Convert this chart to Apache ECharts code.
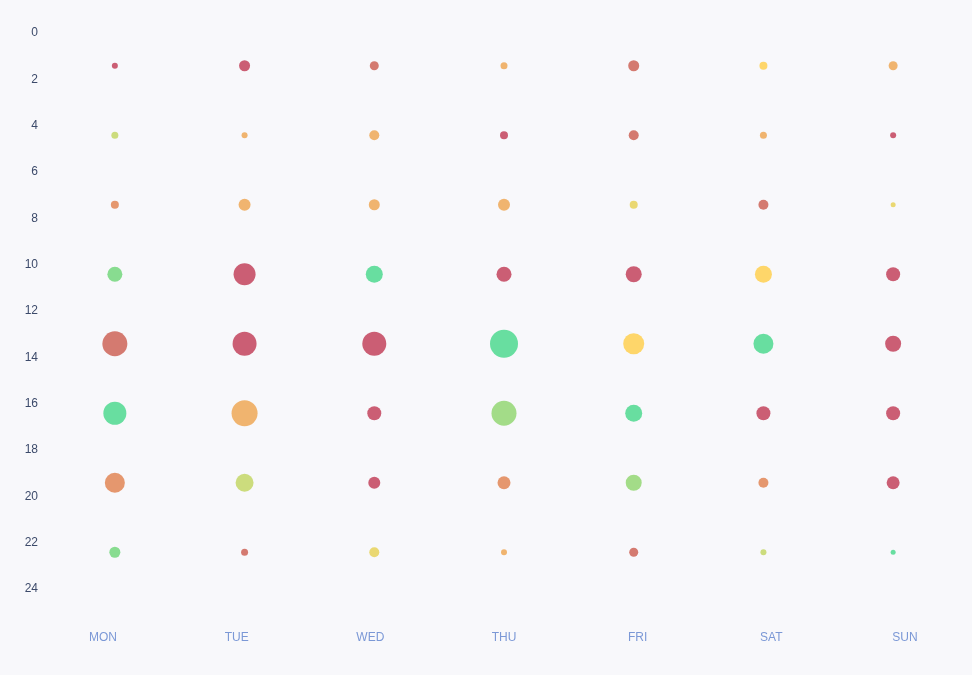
<!DOCTYPE html>
<html>
<head>
<meta charset="utf-8">
<script src="https://cdn.jsdelivr.net/npm/echarts@6/dist/echarts.min.js"></script>
<style>
  html, body { margin: 0; padding: 0; background: #f8f8fb; }
  #main { width: 972px; height: 675px; }
</style>
</head>
<body>
<div id="main"></div>
<script>
// DATA
const days = ["MON", "TUE", "WED", "THU", "FRI", "SAT", "SUN"];
const hours = [1.5, 4.5, 7.5, 10.5, 13.5, 16.5, 19.5, 22.5];
const hourTicks = 2;

// bubble size per day, top to bottom
const sizeMon = [6, 7, 8, 15, 25, 23, 20, 11];
const sizeTue = [11, 6, 12, 22, 24, 26, 18, 7];
const sizeWed = [9, 10, 11, 17, 24, 14, 12, 10];
const sizeThu = [7, 8, 12, 15, 28, 25, 13, 6];
const sizeFri = [11, 10, 8, 16, 21, 17, 16, 9];
const sizeSat = [8, 7, 10, 17, 20, 14, 10, 6];
const sizeSun = [9, 6, 5, 14, 16, 14, 13, 5];

// heat level per day (0 = red ... 7 = green)
const heatMon = [0, 5, 2, 6, 1, 7, 2, 6];
const heatTue = [0, 3, 3, 0, 0, 3, 5, 1];
const heatWed = [1, 3, 3, 7, 0, 0, 0, 4.4];
const heatThu = [3, 0, 3, 0, 7, 5.6, 2, 3];
const heatFri = [1, 1, 4.4, 0, 4, 7, 5.6, 1];
const heatSat = [4, 3, 1, 4, 7, 0, 2, 5];
const heatSun = [3, 0, 4.4, 0, 0, 0, 0, 7];

const sizes = [sizeMon, sizeTue, sizeWed, sizeThu, sizeFri, sizeSat, sizeSun];
const heats = [heatMon, heatTue, heatWed, heatThu, heatFri, heatSat, heatSun];

let points = [];
days.forEach((day, d) => {
  hours.forEach((h, i) => {
    points.push([d, h, sizes[d][i], heats[d][i]]);
  });
});

let chart = echarts.init(document.getElementById("main"));

let option = {
  backgroundColor: "#f8f8fb",
  grid: [
    // bubbles
    { left: 50, right: 14, top: 31, bottom: 88 },
    // axis labels
    { left: 103, right: 67, top: 33, bottom: 86 },
  ],
  visualMap: [
    {
      show: false,
      dimension: 2,
      min: 0,
      max: 30,
      inRange: { symbolSize: [0, 30] },
    },
    {
      show: false,
      dimension: 3,
      min: 0,
      max: 7,
      inRange: {
        color: [
          "#cb5e74",
          "#d47a70",
          "#e5976e",
          "#f0b46f",
          "#fed66a",
          "#ccdc7d",
          "#88dc90",
          "#68dea0",
        ],
      },
    },
  ],
  xAxis: [
    {
      type: "category",
      gridIndex: 0,
      data: days,
      show: false,
    },
    {
      type: "category",
      gridIndex: 1,
      data: days,
      boundaryGap: false,
      offset: 35,
      axisLine: { show: false },
      axisTick: { show: false },
      axisLabel: { color: "#7b98d6", fontSize: 12, margin: 8 },
      splitLine: { show: false },
    },
  ],
  yAxis: [
    {
      type: "value",
      gridIndex: 0,
      inverse: true,
      min: 0,
      max: 24,
      show: false,
    },
    {
      type: "value",
      gridIndex: 1,
      inverse: true,
      min: 0,
      max: 24,
      interval: hourTicks,
      axisLine: { show: false },
      axisTick: { show: false },
      axisLabel: { color: "#3c4a6a", fontSize: 12, margin: 65 },
      splitLine: { show: false },
    },
  ],
  series: [
    {
      type: "scatter",
      xAxisIndex: 0,
      yAxisIndex: 0,
      data: points,
      itemStyle: { opacity: 1 },
    },
  ],
};

chart.setOption(option);
</script>
</body>
</html>
